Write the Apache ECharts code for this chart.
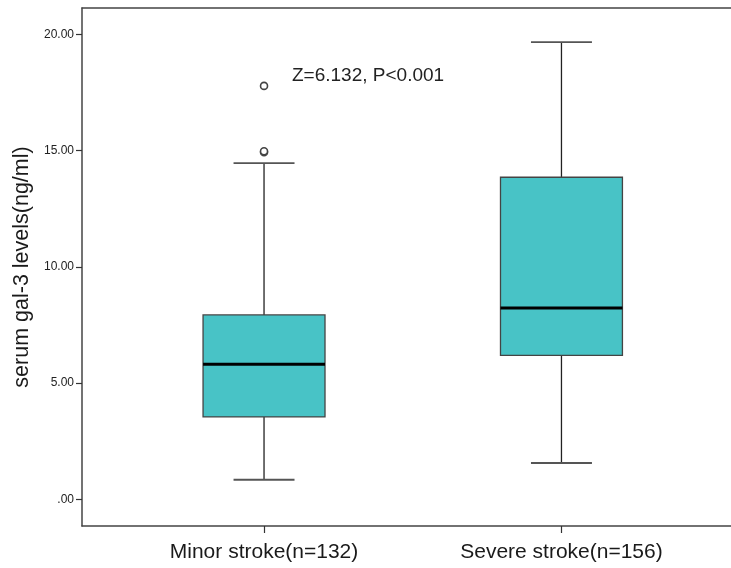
<!DOCTYPE html>
<html>
<head>
<meta charset="utf-8">
<script src="https://cdn.jsdelivr.net/npm/echarts@6/dist/echarts.min.js"></script>
<style>
html,body{margin:0;padding:0;background:#fff;}
#c{width:731px;height:568px;}
</style>
</head>
<body>
<div id="c"></div>
<script>
// ---- data ----
const categories = ['Minor stroke(n=132)', 'Severe stroke(n=156)'];
const whiskerLow = [0.84, 1.56];
const q1 = [3.54, 6.19];
const median = [5.81, 8.23];
const q3 = [7.93, 13.85];
const whiskerHigh = [14.46, 19.66];
const outliers = [[0, 17.78], [0, 14.93], [0, 14.97]];
const yTicks = [0, 5, 10, 15, 20];
const annotation = 'Z=6.132, P<0.001';

const boxData = categories.map((c, i) => [i, whiskerLow[i], q1[i], median[i], q3[i], whiskerHigh[i]]);

const chart = echarts.init(document.getElementById('c'), null, {renderer: 'canvas'});
const FONT = 'Liberation Sans, Arial, sans-serif';

chart.setOption({
  animation: false,
  backgroundColor: '#fff',
  grid: {left: 82, right: 0, top: 8, bottom: 42, containLabel: false},
  xAxis: [{
    type: 'value', min: -0.612, max: 1.570,
    splitLine: {show: false},
    axisLine: {show: true, onZero: false, lineStyle: {color: '#444', width: 1.5}},
    axisTick: {show: true, customValues: [0, 1], length: 7, lineStyle: {color: '#333', width: 1.2}},
    axisLabel: {customValues: [0, 1], formatter: v => categories[Math.round(v)], color: '#1a1a1a',
      fontSize: 21, fontFamily: FONT, margin: 16}
  }, {
    type: 'value', position: 'top', min: -0.612, max: 1.570,
    splitLine: {show: false},
    axisLine: {show: true, onZero: false, lineStyle: {color: '#444', width: 1.5}},
    axisTick: {show: false}, axisLabel: {show: false}
  }],
  yAxis: {
    type: 'value', min: -1.15, max: 21.13,
    name: 'serum gal-3 levels(ng/ml)', nameLocation: 'middle', nameGap: 48,
    nameTextStyle: {fontSize: 21.5, color: '#1a1a1a', fontFamily: FONT},
    splitLine: {show: false},
    axisLine: {show: true, onZero: false, lineStyle: {color: '#444', width: 1.5}},
    axisTick: {show: true, customValues: yTicks, length: 6, lineStyle: {color: '#333', width: 1.2}},
    axisLabel: {customValues: yTicks, formatter: v => v === 0 ? '.00' : v.toFixed(2),
      color: '#222', fontSize: 12, fontFamily: FONT, margin: 8}
  },
  graphic: [{
    type: 'text', left: 292, top: 66,
    style: {text: annotation, fontSize: 19, fill: '#222', fontFamily: FONT}
  }],
  series: [{
    type: 'custom',
    data: boxData,
    encode: {x: 0, y: [1, 2, 3, 4, 5]},
    renderItem: function (params, api) {
      const x = api.value(0);
      const pLo = api.coord([x, api.value(1)]);
      const pQ1 = api.coord([x, api.value(2)]);
      const pMed = api.coord([x, api.value(3)]);
      const pQ3 = api.coord([x, api.value(4)]);
      const pHi = api.coord([x, api.value(5)]);
      const bw = api.size([0.41, 0])[0];
      const cw = bw / 2;
      const cx = pMed[0];
      const lineStyle = {stroke: '#222', lineWidth: 1.3};
      const capStyle = {stroke: '#555', lineWidth: 1.8};
      return {
        type: 'group',
        children: [
          {type: 'line', shape: {x1: cx, y1: pQ3[1], x2: cx, y2: pHi[1]}, style: lineStyle},
          {type: 'line', shape: {x1: cx, y1: pQ1[1], x2: cx, y2: pLo[1]}, style: lineStyle},
          {type: 'line', shape: {x1: cx - cw / 2, y1: pHi[1], x2: cx + cw / 2, y2: pHi[1]}, style: capStyle},
          {type: 'line', shape: {x1: cx - cw / 2, y1: pLo[1], x2: cx + cw / 2, y2: pLo[1]}, style: capStyle},
          {type: 'rect', shape: {x: cx - bw / 2, y: pQ3[1], width: bw, height: pQ1[1] - pQ3[1]},
            style: {fill: '#48C3C6', stroke: '#444', lineWidth: 1.3}},
          {type: 'line', shape: {x1: cx - bw / 2, y1: pMed[1], x2: cx + bw / 2, y2: pMed[1]},
            style: {stroke: '#000', lineWidth: 3}}
        ]
      };
    },
    z: 2
  }, {
    type: 'scatter',
    data: outliers,
    symbol: 'circle', symbolSize: 7,
    itemStyle: {color: '#fff', borderColor: '#444', borderWidth: 1.6, opacity: 1},
    z: 3
  }]
});
</script>
</body>
</html>
